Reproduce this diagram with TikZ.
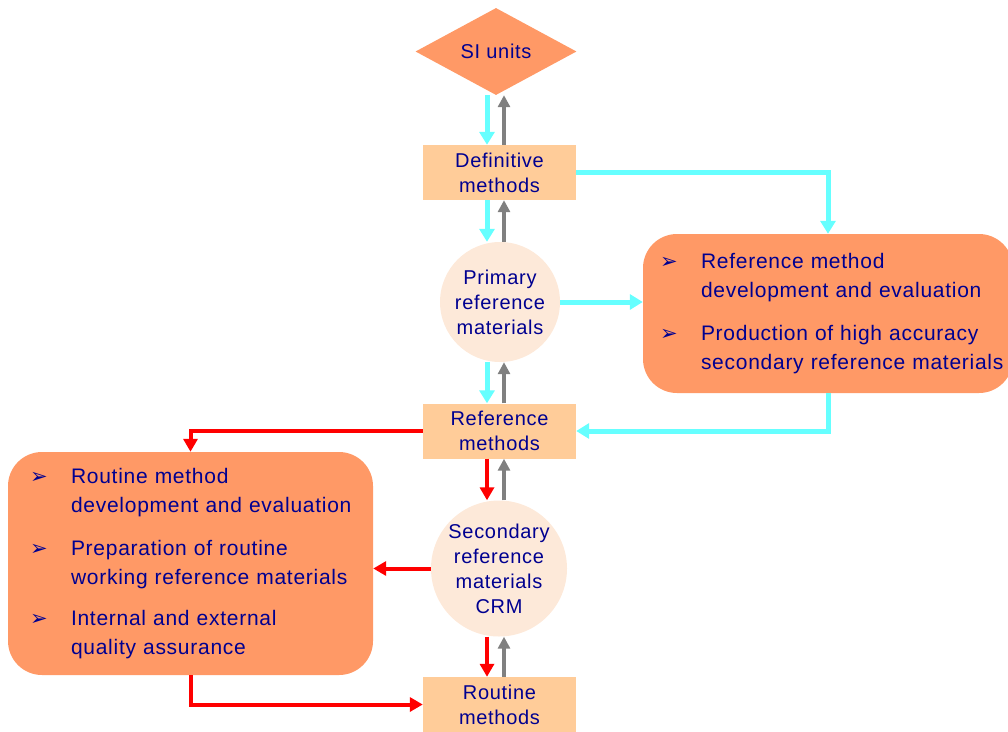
\documentclass[tikz,border=0pt]{standalone}
\usepackage{fontspec}
\setmainfont{Liberation Sans}[LetterSpace=3.5]
\newfontfamily\dingfont{DejaVu Sans}
\usetikzlibrary{shapes.geometric,arrows.meta}
\definecolor{siorange}{HTML}{FF9966}
\definecolor{methfill}{HTML}{FFCC99}
\definecolor{matfill}{HTML}{FDE9D9}
\definecolor{navytext}{HTML}{000090}
\definecolor{cyanline}{HTML}{66FFFF}
\definecolor{grayline}{HTML}{808080}
\definecolor{redline}{HTML}{FF0000}
\newcommand{\bul}{\makebox[41pt][l]{\dingfont\fontsize{21}{21}\selectfont ➢}}
\tikzset{
  method/.style={rectangle, fill=methfill, minimum width=153pt, minimum height=55pt,
    align=center, text=navytext, font=\fontsize{20}{25}\selectfont},
  material/.style={circle, fill=matfill, align=center, inner sep=0pt,
    text=navytext, font=\fontsize{20}{25}\selectfont},
  taskbox/.style={rectangle, rounded corners=34pt, fill=siorange, align=left,
    text=navytext, font=\fontsize{21}{29}\selectfont},
  cyanarr/.style={-{Triangle[width=15pt,length=13pt]}, line width=5pt, cyanline},
  grayarr/.style={-{Triangle[width=12pt,length=12pt]}, line width=4pt, grayline},
  redarr/.style={-{Triangle[width=14pt,length=13pt]}, line width=4pt, redline},
}
\begin{document}
\begin{tikzpicture}[x=1pt,y=-1pt]
    \useasboundingbox (0,0) rectangle (1008,731);
    %central column
    \node[diamond, aspect=1.85, fill=siorange, minimum width=161pt, minimum height=87pt,
      inner sep=0pt, text=navytext, font=\fontsize{20}{25}\selectfont] (si) at (496,51.5) {SI units};
    \node[method] (defm) at (499.5,172.5) {Definitive\\methods};
    \node[material, minimum size=120pt] (prim) at (500,302) {Primary\\reference\\materials};
    \node[method] (refm) at (499.5,431) {Reference\\methods};
    \node[material, minimum size=136pt] (secm) at (499,568.5) {Secondary\\reference\\materials\\CRM};
    \node[method] (routm) at (499.5,704.5) {Routine\\methods};
    %task boxes
    \node[taskbox, minimum width=370pt, minimum height=159pt, text width=336pt, inner xsep=17pt]
      (rbox) at (828,313.5) {\begin{tabular}{@{}l@{}l@{}}
        \bul & Reference method\\
             & development and evaluation\\[14pt]
        \bul & Production of high accuracy\\
             & secondary reference materials
      \end{tabular}};
    \node[taskbox, minimum width=365pt, minimum height=223pt, text width=321pt, inner xsep=22pt]
      (lbox) at (190.5,563.5) {\begin{tabular}{@{}l@{}l@{}}
        \bul & Routine method\\
             & development and evaluation\\[14pt]
        \bul & Preparation of routine\\
             & working reference materials\\[12pt]
        \bul & Internal and external\\
             & quality assurance
      \end{tabular}};
    %draw arrows
    \foreach \up/\dn in {si/defm, defm/prim, prim/refm} {
      \draw[cyanarr] (\up.south -| 487,0) -- (\dn.north -| 487,0);
      \draw[grayarr] (\dn.north -| 504,0) -- (\up.south -| 504,0);
    }
    \foreach \up/\dn in {refm/secm, secm/routm} {
      \draw[redarr] (\up.south -| 487,0) -- (\dn.north -| 487,0);
      \draw[grayarr] (\dn.north -| 504,0) -- (\up.south -| 504,0);
    }
    \draw[cyanarr] (defm.east) -| (rbox.north);
    \draw[cyanarr] (prim.east) -- (prim.east -| rbox.west);
    \draw[cyanarr] (rbox.south) |- (refm.east);
    \draw[redarr] (refm.west) -| (lbox.north);
    \draw[redarr] (secm.west) -- (secm.west -| lbox.east);
    \draw[redarr] (lbox.south) |- (routm.west);
\end{tikzpicture}
\end{document}
